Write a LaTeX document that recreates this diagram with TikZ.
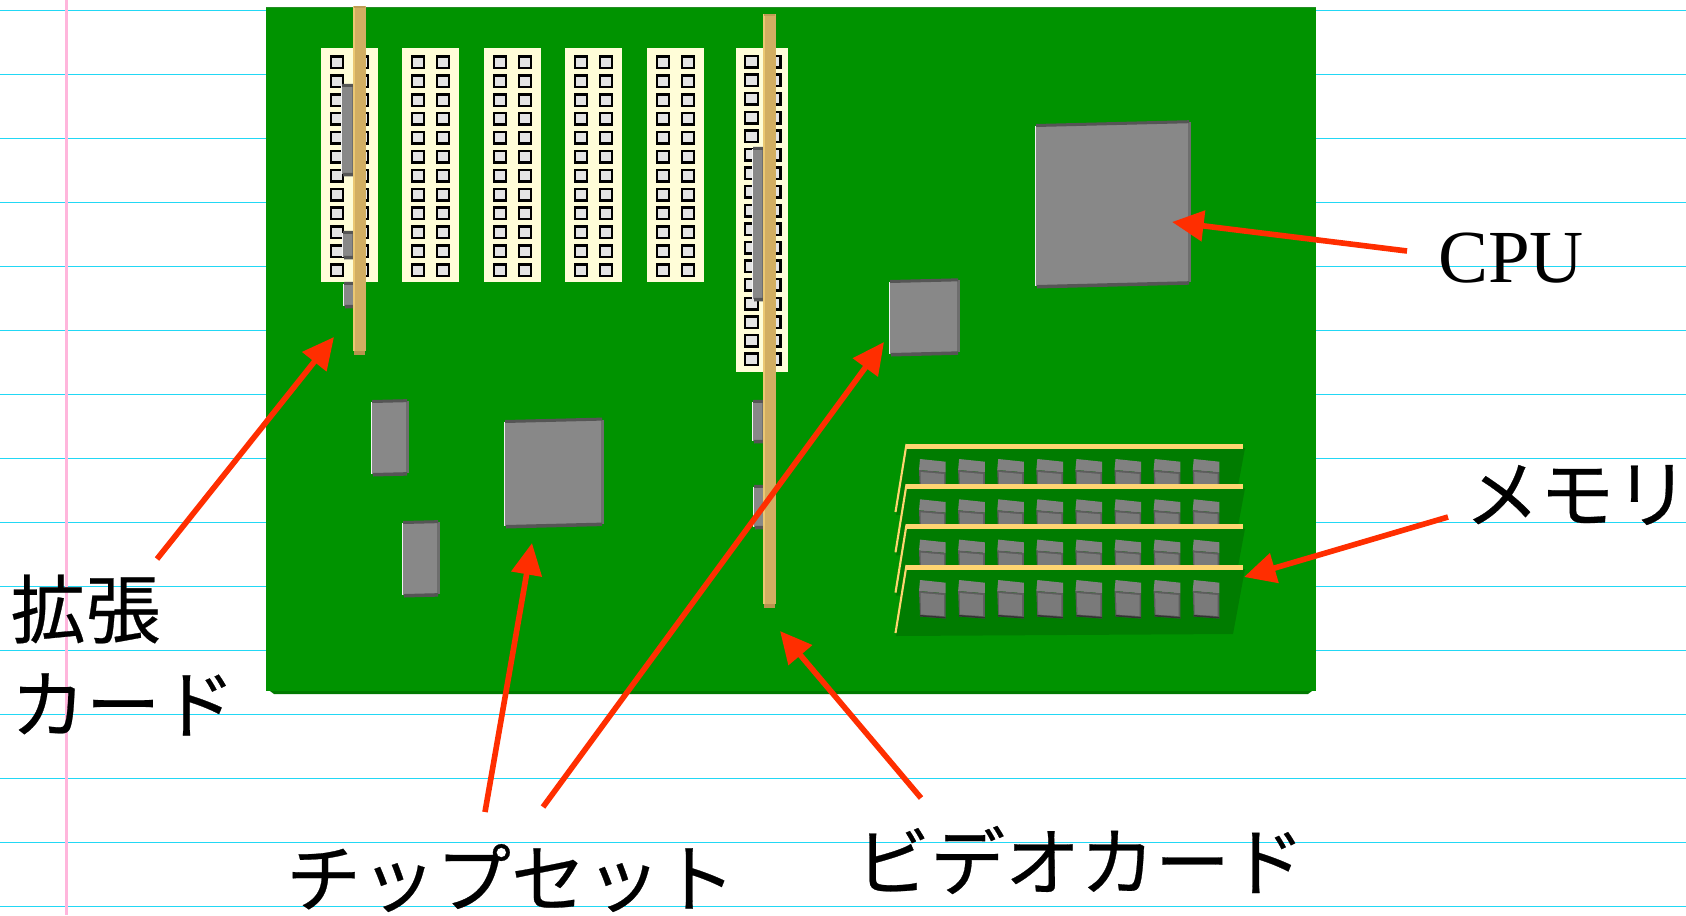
\documentclass[tikz,border=0pt]{standalone}
\usepackage{fontspec}
\setmainfont{Liberation Serif}
\newfontfamily\jpfont[FakeBold=0.35]{Noto Sans CJK JP}
\usetikzlibrary{arrows.meta}
\definecolor{boardgreen}{HTML}{009300}
\definecolor{boarddark}{HTML}{007A00}
\definecolor{panelgreen}{HTML}{007C00}
\definecolor{ruledline}{HTML}{22D8F5}
\definecolor{marginline}{HTML}{FFB6DC}
\definecolor{slotcream}{HTML}{FFFDD8}
\definecolor{holegray}{HTML}{E4E4E4}
\definecolor{chipgray}{HTML}{888888}
\definecolor{chipedge}{HTML}{555555}
\definecolor{chipside}{HTML}{6E6E6E}
\definecolor{cardgold}{HTML}{D2AE62}
\definecolor{cardlight}{HTML}{EBC873}
\definecolor{cardtip}{HTML}{B8944F}
\definecolor{dimmyellow}{HTML}{FFD571}
\definecolor{arrowred}{HTML}{FF2E00}
\newcommand{\chip}[4]{%
  \begin{scope}[shift={(#1,#2)}]
    \pgfmathsetmacro{\skew}{0.025*#3}
    \fill[chipgray] (0,0) -- (#3,-\skew) -- (#3,#4-\skew) -- (0,#4) -- cycle;
    \fill[white!90!gray] (-1.5,0) -- (0,0) -- (0,#4) -- (-1.5,#4) -- cycle;
    \fill[chipside] (#3,-\skew) -- (#3+2.5,-\skew) -- (#3+2.5,#4-\skew) -- (#3,#4-\skew) -- cycle;
    \fill[chipedge] (0,-2) -- (#3+1,-\skew-2) -- (#3+1,-\skew+1) -- (0,1) -- cycle;
    \fill[chipedge] (1,#4-1) -- (#3+1,#4-\skew-1) -- (#3+1,#4-\skew+2.5) -- (1,#4+2.5) -- cycle;
  \end{scope}%
}
\newcommand{\card}[3]{%
  \fill[cardtip] (#1+1,#3-2) rectangle (#1+11.5,#3+4);
  \fill[cardgold] (#1,#2) rectangle (#1+12.5,#3);
  \fill[cardlight] (#1,#2) rectangle (#1+2,#3);
  \fill[cardtip!70!cardgold] (#1+1,#2) rectangle (#1+12,#2+2);
}
\begin{document}
\begin{tikzpicture}[
  x=0.01cm, y=-0.01cm,
  >={Triangle[length=9pt,width=8.5pt]},
  ruled/.style={ruledline, line width=0.36pt},
  slot/.style={fill=slotcream},
  hole/.style={draw=black, fill=holegray, line width=0.7pt},
  pointer/.style={->, arrowred, line width=1.6pt},
  label/.style={inner sep=0pt, font=\fontsize{21.3pt}{27pt}\selectfont\jpfont, align=left}
]
\useasboundingbox (0,0) rectangle (1686,915);
\fill[white] (0,0) rectangle (1686,915);
\foreach \ypos in {10,74,...,906} {
  \draw[ruled] (0,\ypos+0.3) -- (1686,\ypos+0.3);
}
\fill[marginline] (65,0) rectangle (68,915);
\fill[boarddark] (266,688) -- (274,694) -- (1308,694) -- (1316,688) -- cycle;
\fill[boardgreen] (266,8) rectangle (1316,691);
\fill[boardgreen!70!gray] (266,7) rectangle (1316,8);
\foreach \xpos in {321,402,484,565,647} {
  \fill[slot] (\xpos,48) rectangle (\xpos+57,282);
  \foreach \row in {0,...,11} {
    \draw[hole] (\xpos+10,56.5+18.9*\row) rectangle (\xpos+22,68+18.9*\row);
    \draw[hole] (\xpos+35,56.5+18.9*\row) rectangle (\xpos+47,68+18.9*\row);
  }
}
\fill[slot] (736,48) rectangle (788,372);
\foreach \row in {0,...,16} {
  \draw[hole] (745,56+18.6*\row) rectangle (758,67.5+18.6*\row);
  \draw[hole] (768,56+18.6*\row) rectangle (780.5,67.5+18.6*\row);
}
\chip{342}{86}{10}{88}
\chip{343}{233}{9}{24}
\chip{344}{284}{9}{22}
\card{353}{6}{351}
\chip{753}{149}{9}{150}
\chip{753}{402}{9}{39}
\chip{754}{487}{9}{40}
\card{763}{14}{604}
\chip{1036}{126}{152}{160}
\chip{890}{282}{67}{72}
\chip{505}{422}{96}{104}
\chip{372}{402}{34}{72}
\chip{403}{523}{34}{72}
\foreach \shifty in {0,40.3,80.6,121} {
  \begin{scope}[shift={(0,\shifty)}]
    \fill[panelgreen] (906,448) -- (1245,448) -- (1233,513) -- (896,515) -- cycle;
    \foreach \k in {0,...,7} {
      \begin{scope}[shift={(39.1*\k,0)}]
        \fill[chipgray!95!black] (920,459) -- (945.7,461.7) -- (945.7,472.3) -- (919,470) -- cycle;
        \fill[chipedge!85!chipgray] (919,470) -- (945.7,472.3) -- (945.7,497.5) -- (920,495.5) -- cycle;
        \fill[chipgray!90!black] (920.5,472) -- (944,474) -- (944,495) -- (921,493.5) -- cycle;
        \fill[chipedge!60!black] (920,494) -- (945.7,496) -- (945.7,497.5) -- (920,495.5) -- cycle;
      \end{scope}
    }
    \fill[dimmyellow] (906,443.5) rectangle (1243,448.5);
    \draw[dimmyellow, line width=0.6pt] (906.5,444) -- (895.5,512);
  \end{scope}
}
\coordinate (cpu_from) at (1407,251);
\coordinate (cpu_to) at (1172,222);
\coordinate (card_from) at (157,559);
\coordinate (card_to) at (334,337);
\coordinate (video_from) at (921,798);
\coordinate (video_to) at (780,631);
\coordinate (set_from) at (485,812);
\coordinate (set_to) at (532,543);
\coordinate (bridge_from) at (543,807);
\coordinate (bridge_to) at (884,342);
\coordinate (mem_from) at (1448,517);
\coordinate (mem_to) at (1244,577);
\draw[pointer] (cpu_from) -- (cpu_to);
\draw[pointer] (card_from) -- (card_to);
\draw[pointer] (video_from) -- (video_to);
\draw[pointer] (set_from) -- (set_to);
\draw[pointer] (bridge_from) -- (bridge_to);
\draw[pointer] (mem_from) -- (mem_to);
\node[label, font=\fontsize{21.3pt}{27pt}\selectfont] (cpu) at (1511,258) {CPU};
\node[label] (mem) at (1577,495) {メモリ};
\node[label, anchor=west] (card) at (10,655) {拡張\\カード};
\node[label] (chipset) at (511,878) {チップセット};
\node[label] (video) at (1080,860) {ビデオカード};
\end{tikzpicture}
\end{document}
